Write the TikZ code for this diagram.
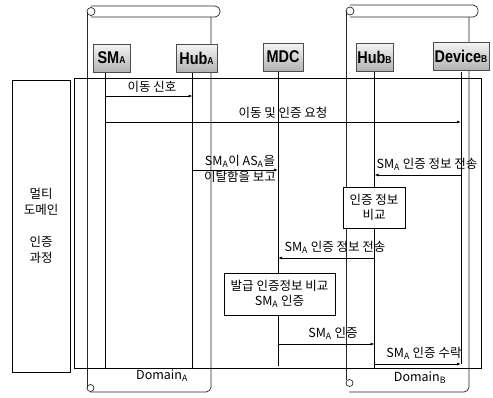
\documentclass[tikz,border=0pt]{standalone}
\usepackage{fontspec}
\setmainfont{Liberation Sans}
\newfontfamily\kofont{Noto Sans CJK KR}
\newfontfamily\actorfont[FakeStretch=0.85]{Liberation Sans}
\usetikzlibrary{arrows.meta}
\usetikzlibrary{positioning}

\newcommand{\lowsub}[1]{\textsubscript{#1}}
\newcommand{\boxidx}[1]{{\fontsize{10}{10}\selectfont #1}}

\tikzset{
  actor/.style={draw=gray!60!black, top color=gray!8, bottom color=gray!60, minimum height=28pt, inner sep=1pt, font=\actorfont\fontsize{17}{17}\selectfont\bfseries},
  life/.style={black, line width=0.7pt},
  msg/.style={black, line width=0.8pt, -{Latex[length=4pt,width=3pt]}},
  lbl/.style={font=\kofont\fontsize{12.5}{14}\selectfont, inner sep=0pt},
  scroll/.style={black!85, line width=0.7pt},
  procbox/.style={draw=black, fill=white, line width=0.8pt, align=center, inner sep=2pt, font=\kofont\fontsize{12.5}{15}\selectfont},
}

\begin{document}
\begin{tikzpicture}[x=1pt,y=-1pt]
\useasboundingbox (0,0) rectangle (493,397);

% domain A scroll
\draw[scroll,rounded corners=5pt] (91,6) -- (220,6) -- (220,17) -- (91,17);
\draw[scroll] (91,11.5) circle[radius=4];
\draw[scroll] (87,12) -- (87,388);
\draw[scroll] (90.5,388) circle[radius=3.5];
\draw[scroll,rounded corners=5pt] (90,392) -- (211,392) -- (211,17);

% domain B scroll
\draw[scroll,rounded corners=5pt] (350,5) -- (478,5) -- (478,17) -- (350,17);
\draw[scroll] (350,11) circle[radius=4];
\draw[scroll] (346,11) -- (346,380);
\draw[scroll] (349.5,383) circle[radius=3.5];
\draw[scroll,rounded corners=5pt] (349,392) -- (469,392) -- (469,17);

% process frame
\draw[black,line width=1pt] (74,78) rectangle (481,368);
\node[draw=black,line width=1pt,minimum width=58pt,minimum height=292pt,align=center,
      font=\kofont\fontsize{12.5}{16}\selectfont] (stage) at (41,226) {멀티\\도메인\\[16pt]인증\\과정};

% lifelines
\coordinate (sA) at (105,0);
\coordinate (hA) at (192.5,0);
\coordinate (mdc) at (278,0);
\coordinate (hB) at (374.5,0);
\coordinate (dB) at (461,0);
\draw[life] (sA |- 0,72) -- (sA |- 0,368);
\draw[life] (hA |- 0,72) -- (hA |- 0,368);
\draw[life] (mdc |- 0,72) -- (mdc |- 0,366);
\draw[life] (hB |- 0,72) -- (hB |- 0,368);
\draw[life] (dB |- 0,72) -- (dB |- 0,364);

% messages
\draw[msg] (sA |- 0,96) -- (hA |- 0,96);
\node[lbl] (m1) at (152,87) {이동 신호};
\draw[msg] (sA |- 0,122) -- (dB |- 0,122);
\node[lbl] (m2) at (283,113) {이동 및 인증 요청};
\draw[msg] (hA |- 0,170) -- (mdc |- 0,170);
\node[lbl] (m3a) at (240,161) {SM\lowsub{A}이 AS\lowsub{A}을};
\node[lbl] (m3b) at (240,176.5) {이탈함을 보고};
\draw[msg] (dB |- 0,175) -- (hB |- 0,175);
\node[lbl] (m4) at (427,164) {SM\lowsub{A} 인증 정보 전송};
\draw[msg] (hB |- 0,258) -- (mdc |- 0,258);
\node[lbl] (m5) at (335,247) {SM\lowsub{A} 인증 정보 전송};
\draw[msg] (mdc |- 0,344) -- (hB |- 0,344);
\node[lbl] (m6) at (333,333) {SM\lowsub{A} 인증};
\draw[msg] (hB |- 0,364) -- (dB |- 0,364);
\node[lbl] (m7) at (424,353) {SM\lowsub{A} 인증 수락};

% checks
\node[procbox,minimum width=62pt,minimum height=41pt] (cmpB) at (374,207.5) {인증 정보\\비교};
\node[procbox,minimum width=111pt,minimum height=42pt] (cmpM) at (279.5,294) {발급 인증정보 비교\\SM\lowsub{A} 인증};

% actors
\node[actor,minimum width=37pt] (SMa) at (111.5,58) {SM\boxidx{A}};
\node[actor,minimum width=41pt] (HubA) at (196.5,58) {Hub\boxidx{A}};
\node[actor,minimum width=40pt] (MDC) at (283,57) {MDC};
\node[actor,minimum width=37pt] (HubB) at (374.5,57) {Hub\boxidx{B}};
\node[actor,minimum width=56pt] (DevB) at (461,56) {Device\boxidx{B}};

% domain names
\node[lbl] (domA) at (162,376) {Domain\lowsub{A}};
\node[lbl] (domB) at (420,378) {Domain\lowsub{B}};
\end{tikzpicture}
\end{document}
